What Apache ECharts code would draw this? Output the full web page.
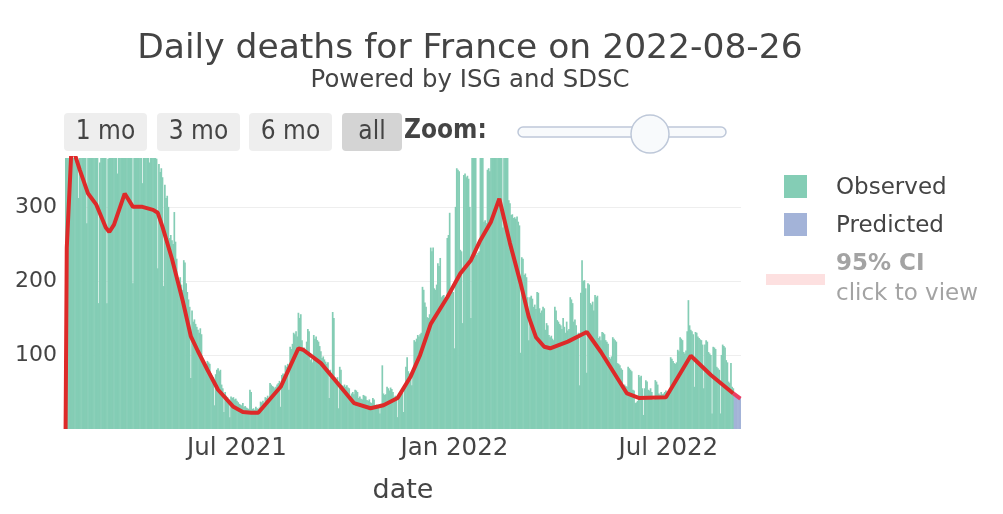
<!DOCTYPE html>
<html lang="en">
<head>
<meta charset="UTF-8">
<title>Daily deaths for France</title>
<script src="https://cdn.jsdelivr.net/npm/echarts@6/dist/echarts.min.js"></script>
<style>
  html, body { margin: 0; padding: 0; background: #fff; }
  #chart { width: 1003px; height: 514px; }
</style>
</head>
<body>
<div id="chart"></div>
<script>
// one bar per day, starting here
var startDay = '2021-02-06';

// observed daily deaths, 2021-02-06 .. 2022-08-25
var observed = [
  380, 410, 430, 450, 420, 400, 390, 385, 400, 420,
  410, 312, 395, 380, 372, 390, 400, 385, 278, 380,
  375, 370, 385, 395, 380, 372, 368, 375, 170, 360,
  380, 390, 385, 375, 370, 170, 365, 390, 395, 380,
  385, 375, 372, 380, 345, 390, 400, 395, 380, 378,
  390, 400, 410, 395, 385, 380, 378, 197, 370, 395,
  400, 390, 385, 375, 370, 332, 385, 395, 380, 375,
  370, 360, 380, 385, 375, 372, 368, 365, 217, 358,
  347, 352, 340, 193, 330, 312, 315, 300, 258, 262,
  255, 250, 293, 253, 230, 200, 197, 205, 195, 188,
  228, 225, 197, 185, 175, 165, 69, 160, 145, 148,
  142, 138, 134, 130, 136, 128, 88, 85, 84, 82,
  92, 90, 88, 75, 72, 70, 32, 74, 80, 82,
  78, 80, 60, 55, 23, 50, 45, 43, 40, 16,
  44, 42, 43, 40, 41, 38, 36, 34, 33, 32,
  35, 30, 31, 29, 28, 27, 53, 50, 27, 28,
  26, 30, 28, 27, 29, 37, 36, 38, 35, 43,
  42, 45, 40, 62, 60, 58, 57, 55, 57, 60,
  62, 65, 30, 73, 75, 72, 86, 84, 88, 53,
  111, 108, 115, 130, 128, 132, 125, 157, 150, 155,
  120, 107, 110, 104, 118, 135, 132, 93, 95, 90,
  127, 122, 125, 120, 118, 112, 105, 96, 98, 94,
  91, 88, 90, 42, 80, 75, 158, 150, 70, 68,
  70, 28, 84, 80, 59, 58, 60, 57, 59, 56,
  55, 42, 48, 50, 47, 53, 52, 50, 42, 44,
  41, 40, 46, 45, 44, 39, 38, 40, 36, 35,
  42, 40, 32, 33, 31, 30, 21, 34, 86, 48,
  46, 47, 57, 55, 52, 56, 54, 50, 43, 45,
  44, 16, 48, 50, 46, 49, 23, 60, 84, 97,
  78, 75, 72, 59, 80, 120, 118, 122, 127, 125,
  128, 130, 192, 188, 171, 165, 151, 150, 155, 245,
  240, 245, 190, 188, 195, 224, 220, 231, 178, 180,
  181, 175, 178, 258, 262, 292, 188, 190, 185, 109,
  300, 352, 350, 348, 242, 240, 143, 343, 345, 340,
  342, 338, 300, 150, 380, 385, 378, 382, 235, 238,
  240, 390, 395, 388, 280, 282, 278, 350, 352, 348,
  400, 410, 395, 420, 405, 398, 385, 410, 400, 390,
  272, 390, 395, 400, 385, 309, 305, 289, 290, 285,
  286, 284, 287, 280, 275, 103, 232, 230, 208, 210,
  205, 178, 120, 178, 180, 176, 165, 168, 162, 185,
  184, 163, 157, 160, 165, 163, 134, 143, 140, 127,
  124, 126, 122, 120, 165, 160, 147, 145, 142, 140,
  135, 150, 138, 130, 145, 133, 135, 178, 175, 170,
  145, 148, 140, 127, 130, 59, 184, 228, 200, 201,
  190, 76, 197, 195, 170, 168, 172, 160, 181, 178,
  180, 123, 125, 120, 131, 130, 128, 120, 118, 115,
  97, 95, 98, 124, 122, 120, 118, 89, 88, 86,
  82, 80, 57, 60, 58, 57, 84, 82, 80, 78,
  53, 52, 35, 36, 38, 73, 70, 72, 55, 19,
  55, 66, 64, 53, 52, 55, 50, 39, 40, 66,
  64, 60, 48, 46, 50, 47, 48, 50, 52, 48,
  50, 49, 97, 95, 92, 89, 88, 90, 107, 105,
  124, 122, 120, 104, 102, 106, 132, 174, 140, 134,
  132, 128, 57, 131, 130, 125, 123, 121, 120, 114,
  55, 114, 120, 118, 104, 102, 100, 21, 111, 110,
  108, 84, 82, 80, 21, 100, 114, 112, 110, 93,
  90, 64, 62, 89, 57, 55
];

// predicted daily deaths, 2022-08-26 .. 2022-08-31
var predicted = [44, 44, 43, 43, 42, 42];

// smoothed curve (red line)
var fitLine = [
  ['2021-02-06', 0], ['2021-02-07', 245], ['2021-02-11', 380], ['2021-02-14', 370],
  ['2021-02-18', 350], ['2021-02-25', 318], ['2021-03-04', 303], ['2021-03-12', 272],
  ['2021-03-15', 266], ['2021-03-19', 276], ['2021-03-28', 318], ['2021-04-04', 300],
  ['2021-04-12', 300], ['2021-04-21', 296], ['2021-04-25', 292], ['2021-04-29', 273],
  ['2021-05-07', 230], ['2021-05-16', 174], ['2021-05-23', 125], ['2021-05-29', 105],
  ['2021-06-06', 80], ['2021-06-15', 53], ['2021-06-28', 30], ['2021-07-06', 23],
  ['2021-07-13', 22], ['2021-07-19', 22], ['2021-08-07', 57], ['2021-08-22', 109],
  ['2021-08-26', 107], ['2021-09-10', 89], ['2021-09-24', 62], ['2021-10-08', 35],
  ['2021-10-22', 28], ['2021-11-02', 32], ['2021-11-14', 42], ['2021-11-25', 71],
  ['2021-12-03', 100], ['2021-12-12', 142], ['2021-12-26', 178], ['2022-01-06', 210],
  ['2022-01-15', 228], ['2022-01-23', 255], ['2022-02-01', 280], ['2022-02-08', 311],
  ['2022-02-17', 251], ['2022-02-26', 197], ['2022-03-05', 151], ['2022-03-11', 124],
  ['2022-03-18', 111], ['2022-03-23', 109], ['2022-04-07', 118], ['2022-04-23', 131],
  ['2022-05-05', 104], ['2022-05-27', 48], ['2022-06-06', 42], ['2022-06-29', 43],
  ['2022-07-20', 99], ['2022-08-06', 73], ['2022-08-25', 48]
];
var fitPredicted = [['2022-08-25', 48], ['2022-08-31', 41]];

var tickDays = ['2021-07-01', '2022-01-01', '2022-07-01'];
var tickLabels = ['Jul 2021', 'Jan 2022', 'Jul 2022'];
var buttonLabels = ['1 mo', '3 mo', '6 mo', 'all'];

var days = [];
var t0 = Date.parse(startDay + 'T00:00:00Z');
for (var i = 0; i < observed.length + predicted.length; i++) {
    days.push(new Date(t0 + i * 86400000).toISOString().slice(0, 10));
}
var predictedData = predicted.map(function (v, i) {
    return [days[observed.length + i], v];
});

var baseFont = '"DejaVu Sans", Verdana, sans-serif';
var narrowFont = '"DejaVu Sans Condensed", "DejaVu Sans", sans-serif';

// range buttons and zoom slider above the plot
var btnLeft = [64, 157, 249, 342];
var btnWidth = [83, 83, 83, 60];
var graphics = [];
buttonLabels.forEach(function (label, i) {
    graphics.push({
        type: 'rect',
        shape: { x: btnLeft[i], y: 113, width: btnWidth[i], height: 38, r: 4 },
        style: { fill: label === 'all' ? '#d4d4d4' : '#eeeeee' }
    });
    graphics.push({
        type: 'text',
        x: btnLeft[i] + btnWidth[i] / 2,
        y: 132,
        style: {
            text: label, fill: '#444', font: '26px ' + narrowFont,
            textAlign: 'center', textVerticalAlign: 'middle'
        }
    });
});
graphics.push({
    type: 'text', x: 404, y: 131,
    style: {
        text: 'Zoom:', fill: '#444', font: 'bold 26px ' + narrowFont,
        textAlign: 'left', textVerticalAlign: 'middle'
    }
});
graphics.push({
    type: 'rect',
    shape: { x: 518, y: 127, width: 208, height: 10, r: 5 },
    style: { fill: '#f8fafc', stroke: '#bec8d9', lineWidth: 1.5 }
});
graphics.push({
    type: 'circle',
    shape: { cx: 650, cy: 134, r: 19 },
    style: { fill: '#f8fafc', stroke: '#bec8d9', lineWidth: 1.5 }
});

var myChart = echarts.init(document.getElementById('chart'));
var option = {
    animation: false,
    title: [
        {
            text: 'Daily deaths for France on 2022-08-26',
            left: 465, top: 27, textAlign: 'center',
            textStyle: { fontSize: 34.5, fontWeight: 'normal', color: '#444', fontFamily: baseFont }
        },
        {
            text: 'Powered by ISG and SDSC',
            left: 465, top: 64, textAlign: 'center',
            textStyle: { fontSize: 24.4, fontWeight: 'normal', color: '#444', fontFamily: baseFont }
        }
    ],
    legend: [
        {
            data: ['Observed', 'Predicted'],
            orient: 'vertical',
            left: 784, top: 173, padding: 0,
            icon: 'rect',
            itemWidth: 23, itemHeight: 23, itemGap: 11,
            selectedMode: false,
            formatter: function (name) { return '{t|' + name + '}'; },
            textStyle: {
                rich: {
                    t: { fontSize: 23, color: '#444', fontFamily: baseFont, padding: [4, 0, 0, 24], lineHeight: 23 }
                }
            }
        },
        {
            data: [{ name: '95% CI', icon: 'rect' }],
            orient: 'vertical',
            left: 766, top: 253, padding: 0,
            itemWidth: 59, itemHeight: 11,
            selectedMode: false,
            formatter: function () { return '{b|95% CI}\n{n|click to view}'; },
            textStyle: {
                rich: {
                    b: { fontSize: 23, fontWeight: 'bold', color: '#a3a3a3', fontFamily: baseFont, padding: [0, 0, 0, 6], lineHeight: 30 },
                    n: { fontSize: 23, color: '#a3a3a3', fontFamily: baseFont, padding: [0, 0, 0, 6], lineHeight: 30 }
                }
            }
        }
    ],
    grid: { left: 65, right: 262, top: 158, bottom: 85 },
    xAxis: {
        type: 'category',
        data: days,
        boundaryGap: true,
        axisLine: { show: false },
        axisTick: { show: false },
        splitLine: { show: false },
        axisLabel: {
            interval: function (index, value) { return tickDays.indexOf(value) >= 0; },
            formatter: function (value) { return tickLabels[tickDays.indexOf(value)]; },
            fontSize: 24.5, color: '#444', fontFamily: baseFont, margin: 7
        },
        name: 'date',
        nameLocation: 'middle',
        nameGap: 48,
        nameTextStyle: { fontSize: 27, color: '#444', fontFamily: baseFont }
    },
    yAxis: {
        type: 'value',
        min: 0, max: 366, interval: 100,
        axisLine: { show: false },
        axisTick: { show: false },
        axisLabel: {
            showMinLabel: false, showMaxLabel: false,
            fontSize: 22, color: '#444', fontFamily: baseFont, margin: 8
        },
        splitLine: { showMinLine: false, showMaxLine: false, lineStyle: { color: '#eeeeee', width: 1 } }
    },
    series: [
        {
            name: 'Observed', type: 'bar', data: observed,
            barWidth: 1.7, barGap: '-100%',
            itemStyle: { color: '#84cdb5' }
        },
        {
            name: 'Predicted', type: 'bar', data: predictedData,
            barWidth: 1.7, barGap: '-100%',
            itemStyle: { color: '#a3b3d8' }
        },
        {
            name: 'fit', type: 'line', data: fitLine,
            symbol: 'none', z: 5,
            lineStyle: { color: '#dd2a29', width: 4 }
        },
        {
            name: 'fit predicted', type: 'line', data: fitPredicted,
            symbol: 'none', z: 5,
            lineStyle: { color: '#ee3d63', width: 4 }
        },
        {
            name: '95% CI', type: 'scatter', data: [],
            itemStyle: { color: '#fcd8d8' }
        }
    ],
    graphic: graphics
};
myChart.setOption(option);
</script>
</body>
</html>
